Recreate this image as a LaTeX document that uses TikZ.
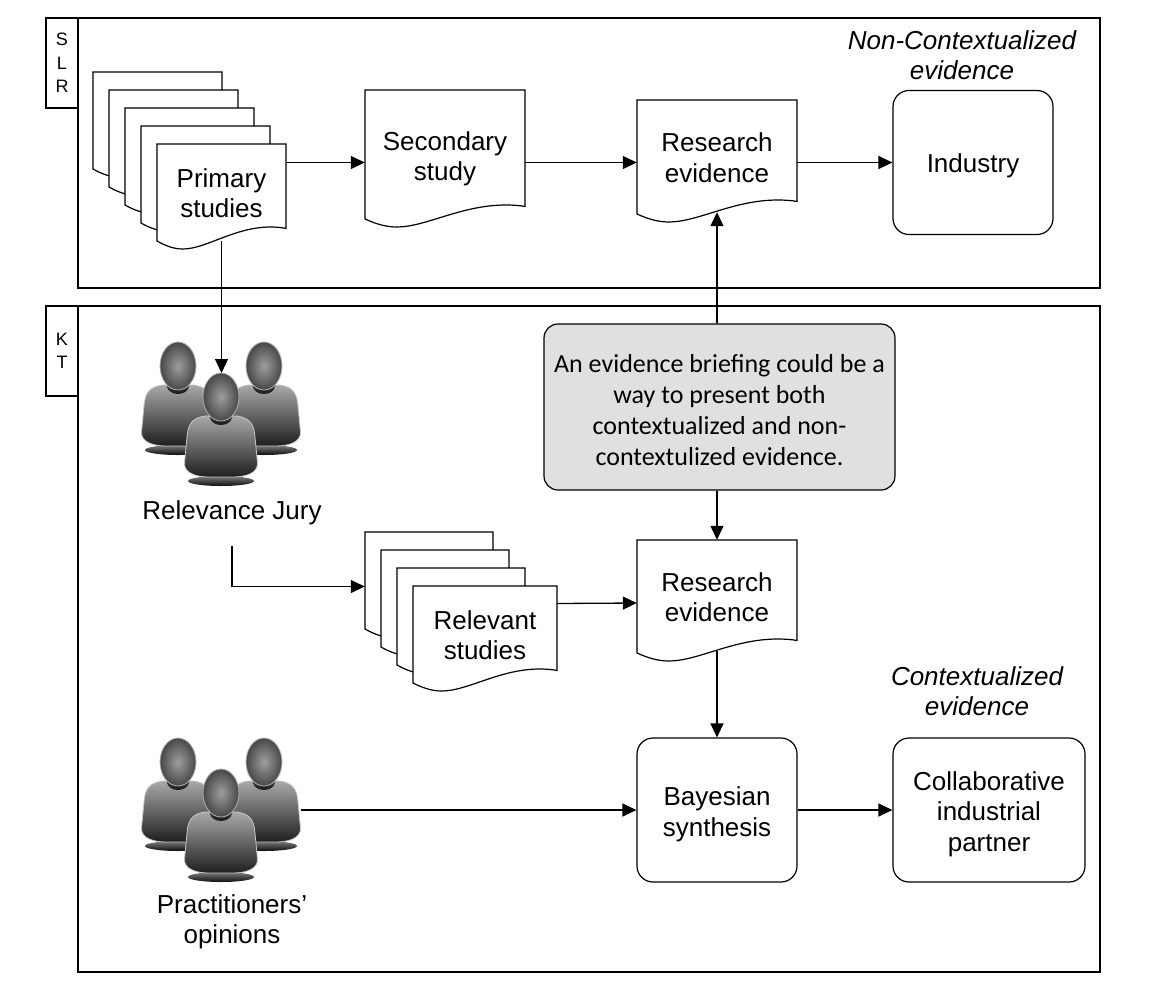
\documentclass[tikz,border=0pt]{standalone}
\usepackage{fontspec}
\setmainfont{Liberation Sans}
\newfontfamily\notefont{Carlito}
\usetikzlibrary{arrows.meta, positioning}
\definecolor{notegray}{HTML}{E0E0E0}
\newcommand{\dropto}[1]{\rule{0pt}{#1pt}}

\tikzset{
  frame/.style={draw, line width=1.2pt},
  tab/.style={draw, line width=1.2pt, fill=white, align=center, inner sep=0pt, minimum width=32pt, minimum height=90pt, font=\fontsize{18}{23.5}\selectfont},
  link/.style={-{Triangle[length=14pt, width=13pt]}, line width=1.3pt},
  doctext/.style={align=center, inner sep=0pt, font=\fontsize{26}{30.5}\selectfont},
  sidenote/.style={align=center, inner sep=0pt, font=\fontsize{26}{30.5}\selectfont\itshape},
  roundbox/.style={draw, line width=1.2pt, rounded corners=16pt, align=center, inner sep=0pt, minimum width=160pt, minimum height=144pt, font=\fontsize{26}{30.5}\selectfont},
  notebox/.style={draw, line width=1.2pt, fill=notegray, rounded corners=14pt, align=center, inner sep=0pt, minimum width=351pt, minimum height=166pt, font=\notefont\fontsize{26}{31}\selectfont},
  person/.pic={
    \shade[top color=black!50, bottom color=black!95] (0,84) ellipse (33 and 5);
    \shade[top color=black!34, middle color=black!56, bottom color=black!88, draw=black!22, line width=0.8pt]
      (0,19) -- (16,19) .. controls (28,21) and (33,26) .. (34,40) -- (36.5,66)
      .. controls (37,76) and (25,80) .. (12,80) -- (-12,80)
      .. controls (-25,80) and (-37,76) .. (-36.5,66) -- (-34,40)
      .. controls (-33,26) and (-28,21) .. (-16,19) -- cycle;
    \shade[top color=black!65, bottom color=black!90] (0,20) ellipse (11 and 8);
    \shade[inner color=black!38, outer color=black!72, draw=black!30, line width=0.8pt] (0,0) ellipse (18 and 24);
  },
  persongroup/.pic={
    \pic at (-43,-31) {person};
    \pic at (43,-31) {person};
    \pic at (0,0) {person};
  },
}

% document shape: name, left, top, width, height, text
\newcommand{\docnode}[6]{
  \draw[line width=1.2pt, fill=white] (#2,#3) -- (#2+#4,#3) -- (#2+#4,#3+#5-12.5)
    .. controls (#2+0.97*#4,#3+#5-13.5) and (#2+0.92*#4,#3+#5-14) .. (#2+0.88*#4,#3+#5-14)
    .. controls (#2+0.6*#4,#3+#5-14) and (#2+0.38*#4,#3+#5+8) .. (#2+0.2*#4,#3+#5+8)
    .. controls (#2+0.13*#4,#3+#5+8) and (#2+0.07*#4,#3+#5+5) .. (#2,#3+#5) -- cycle;
  \node[doctext, minimum width=#4 pt, minimum height=#5 pt] (#1) at (#2+0.5*#4,#3+0.5*#5) {#6};
}

\begin{document}
\begin{tikzpicture}[x=1pt, y=-1pt]
  \useasboundingbox (0,0) rectangle (1162,1004);

  % SLR lane
  \draw[frame] (78,18) rectangle (1100,288);
  \node[tab] (slrtab) at (62,63) {S\\L\\R};

  \foreach \name/\px/\py in {primaryA/93/72, primaryB/109/90, primaryC/125/108, primaryD/141/126}{
    \docnode{\name}{\px}{\py}{129}{97}{}
  }
  \docnode{primary}{157}{144}{129}{97}{\dropto{20}Primary\\studies}
  \docnode{secondary}{365}{90}{160}{129}{\dropto{27}Secondary\\study}
  \docnode{research}{637}{100}{160}{114}{\dropto{20}Research\\evidence}
  \node[roundbox] (industry) at (973,162.5) {\dropto{25}Industry};
  \node[sidenote] (noncontext) at (962,55) {Non-Contextualized\\evidence};

  % KT lane
  \draw[frame] (78,306) rectangle (1100,972);
  \node[tab] (kttab) at (62,351) {K\\T};

  \pic at (221,397) {persongroup};
  \coordinate (juryhead) at (221,373);
  \node[doctext] (jury) at (232,513) {Relevance Jury};
  \coordinate (jurytail) at (232,546);

  \foreach \name/\px/\py in {relevantA/365/532, relevantB/381/550, relevantC/397/568}{
    \docnode{\name}{\px}{\py}{128}{97}{}
  }
  \docnode{relevant}{413}{586}{144}{97}{\dropto{20}Relevant\\studies}
  \docnode{researchkt}{637}{540}{160}{113}{\dropto{20}Research\\evidence}

  \node[notebox] (briefing) at (719.5,407) {\dropto{24}An evidence briefing could be a\\way to present both\\contextualized and non-\\contextulized evidence.};

  \pic at (221,793) {persongroup};
  \node[inner sep=0pt, minimum width=159pt, minimum height=140pt] (crowd) at (221,790) {};
  \node[doctext] (opinions) at (232,922) {Practitioners’\\opinions};

  \node[roundbox] (bayes) at (717,810) {\dropto{27}Bayesian\\synthesis};
  \node[roundbox, minimum width=192pt] (partner) at (989,810) {\dropto{27}Collaborative\\industrial\\partner};
  \node[sidenote] (context) at (977,691) {Contextualized\\evidence};

  % connectors
  \draw[link] (primary.east |- industry.west) -- (secondary.west |- industry.west);
  \draw[link] (secondary.east |- industry.west) -- (research.west |- industry.west);
  \draw[link] (research.east |- industry.west) -- (industry.west);
  \draw[link] (primary.south) -- (juryhead -| primary.south);
  \draw[link] (research.south |- briefing.north) -- ([yshift=2pt]research.south);
  \draw[link] (researchkt.north |- briefing.south) -- (researchkt.north);
  \draw[link] (jurytail) |- ([yshift=-6pt]relevantA.west);
  \draw[link] ([yshift=31pt]relevant.east) -- ([yshift=-6.5pt]researchkt.west);
  \draw[link] ([yshift=2pt]researchkt.south) -- (bayes.north);
  \draw[link] (crowd.east |- bayes.west) -- (bayes.west);
  \draw[link] (bayes.east) -- (partner.west);
\end{tikzpicture}
\end{document}
